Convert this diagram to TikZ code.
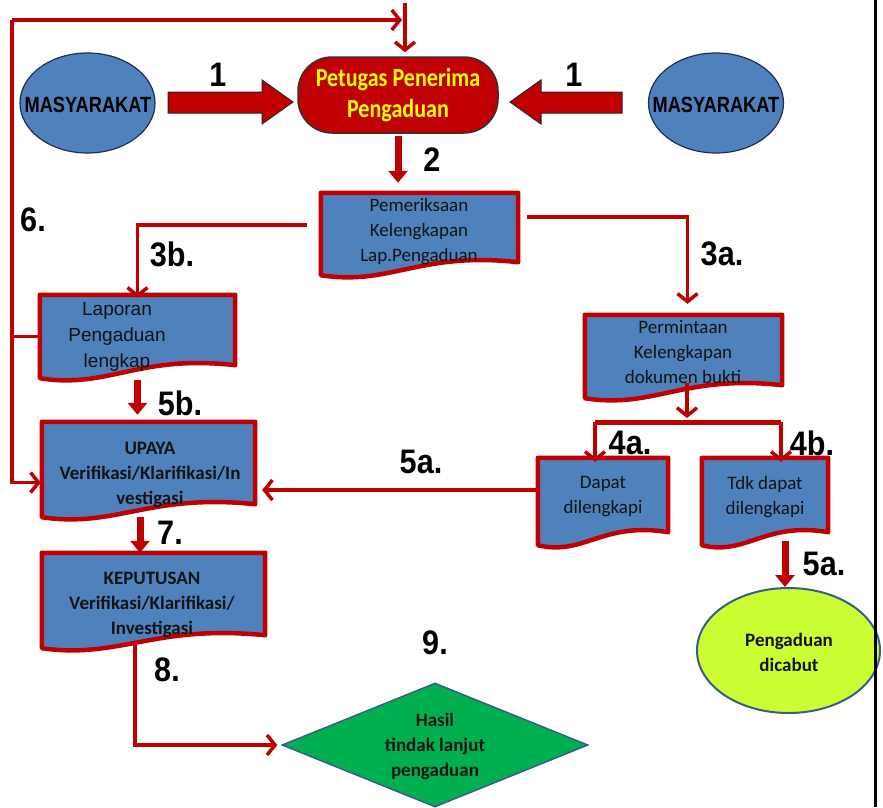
\documentclass[tikz,border=0pt]{standalone}
\usepackage{fontspec}
\setmainfont{Carlito}
\newfontfamily\arial{Liberation Sans}
\usetikzlibrary{arrows.meta,calc,shapes.geometric}
\definecolor{boxblue}{HTML}{4F81BD}
\definecolor{boxred}{HTML}{C00000}
\definecolor{lred}{HTML}{C00000}
\definecolor{ellline}{HTML}{1F2F4F}
\definecolor{dgreen}{HTML}{00B050}
\definecolor{lime}{HTML}{CCFF33}
\definecolor{shapeline}{HTML}{385D8A}
\definecolor{txtc}{HTML}{141414}
\definecolor{petyellow}{HTML}{FFFF00}
\newcommand\docshape[1]{\filldraw[docst] (#1.north west) -- (#1.north east) -- ($(#1.south east)+(0,-13)$) .. controls ($(#1.south west)!0.5!(#1.south east)+(0,-24)$) and ($(#1.south west)!0.35!(#1.south east)+(0,11)$) .. (#1.south west) -- cycle;}
\newcommand\sq[2][0.9]{\scalebox{#1}[1]{#2}}
\tikzset{
  docn/.style={rectangle, inner sep=0pt, draw=none},
  docst/.style={fill=boxblue, draw=boxred, line width=4.5pt, line join=round},
  txt/.style={align=center, text=txtc, inner sep=0pt, font=\fontsize{19}{25}\selectfont},
  txtb/.style={align=center, text=txtc, inner sep=0pt, font=\bfseries\fontsize{19}{25}\selectfont},
  txta/.style={align=center, text=txtc, inner sep=0pt, font=\arial\fontsize{19}{26}\selectfont},
  mtext/.style={inner sep=0pt, text=black, font=\arial\bfseries\fontsize{22}{22}\selectfont},
  lbl/.style={inner sep=0pt, text=black, font=\arial\bfseries\fontsize{34}{34}\selectfont},
  ellb/.style={ellipse, minimum width=135pt, minimum height=100pt, inner sep=0pt, fill=boxblue, draw=ellline, line width=1.2pt},
  con/.style={draw=lred, line width=3.5pt},
  conarr/.style={draw=lred, line width=3.5pt, -{Straight Barb[length=8pt,width=20pt]}},
  thickarr/.style={draw=lred, line width=7pt, -{Triangle[length=12pt,width=19pt]}},
  blockarr/.style={fill=lred, draw=black!85, line width=1pt},
}
\begin{document}
\begin{tikzpicture}[x=1pt,y=-1pt]
\useasboundingbox (0,0) rectangle (883,807);
\fill[white] (0,0) rectangle (883,807);

% MASYARAKAT ellipses
\node[ellb] (mas1) at (87.5,103) {};
\node[ellb] (mas2) at (716,103) {};
\node[mtext] (mas1t) at (88,105) {\sq[0.83]{MASYARAKAT}};
\node[mtext] (mas2t) at (716,105) {\sq[0.83]{MASYARAKAT}};

% Petugas
\node[rectangle, rounded corners=34pt, minimum width=200pt, minimum height=76pt,
      fill=boxred, draw=black!80, line width=1.5pt, text=petyellow, align=center,
      font=\bfseries\fontsize{26}{31}\selectfont] (pet) at (398,95)
      {\sq[0.85]{Petugas Penerima}\\\sq[0.85]{Pengaduan}};

% block arrows
\filldraw[blockarr] (168,92) -- (262,92) -- (262,80) -- (293,102) -- (262,124) -- (262,113) -- (168,113) -- cycle;
\filldraw[blockarr] (622,92) -- (541,92) -- (541,80) -- (510,102) -- (541,124) -- (541,113) -- (622,113) -- cycle;

% document boxes
\node[docn, minimum width=197pt, minimum height=82pt] (pem) at (419.5,234) {};
\node[docn, minimum width=195pt, minimum height=83pt] (lap) at (137.5,336.5) {};
\node[docn, minimum width=197pt, minimum height=83pt] (perm) at (683.5,356.5) {};
\node[docn, minimum width=130pt, minimum height=87pt] (dapat) at (603,501.5) {};
\node[docn, minimum width=126pt, minimum height=87pt] (tdk) at (765,501.5) {};
\node[docn, minimum width=213pt, minimum height=95pt] (upaya) at (148.5,469.5) {};
\node[docn, minimum width=223pt, minimum height=95pt] (kep) at (153.5,600.5) {};
\docshape{pem}
\docshape{lap}
\docshape{perm}
\docshape{dapat}
\docshape{tdk}
\docshape{upaya}
\docshape{kep}

% diamond and ellipse
\node[diamond, minimum width=306pt, minimum height=124pt, inner sep=0pt, fill=dgreen, draw=shapeline, line width=1.5pt] (dia) at (435,745) {};
\node[ellipse, minimum width=183pt, minimum height=125pt, inner sep=0pt, fill=lime, draw=shapeline, line width=2pt] (ell) at (788.5,650.5) {};

% texts
\node[txt] (pemt) at (419,232) {Pemeriksaan\\Kelengkapan\\Lap.Pengaduan};
\node[txta] (lapt) at (117,337) {Laporan\\Pengaduan\\lengkap};
\node[txt] (permt) at (683,352) {Permintaan\\Kelengkapan\\dokumen bukti};
\node[txt] (dapatt) at (603,497) {Dapat\\dilengkapi};
\node[txt] (tdkt) at (765,497) {Tdk dapat\\dilengkapi};
\node[txtb] (upayat) at (150,475) {UPAYA\\Verifikasi/Klarifikasi/In\\vestigasi};
\node[txtb] (kept) at (152,605) {KEPUTUSAN\\Verifikasi/Klarifikasi/\\Investigasi};
\node[txtb] (diat) at (435,746) {Hasil\\tindak lanjut\\pengaduan};
\node[txtb] (ellt) at (789,652) {Pengaduan\\dicabut};

% coordinates
\coordinate (top) at (405,3);
\coordinate (c6) at (12,20);
\coordinate (p3b) at (307,225);
\coordinate (p3a) at (527,217);
\coordinate (pb) at (687,383);
\coordinate (bar) at (687,420);
\coordinate (bl) at (595,422);
\coordinate (br) at (781,422);
\coordinate (a5) at (538,490);
\coordinate (t5) at (785,541);
\coordinate (u7) at (140,517);
\coordinate (k8) at (135,645);
\coordinate (u6) at ($(upaya.west)+(0,13)$);

% connectors
\draw[conarr, shorten >=4pt] (top) -- (top |- pet.north);
\draw[con] (lap.west) -| (c6);
\draw[conarr, shorten >=3pt] (c6) -- (c6 -| top);
\draw[conarr, shorten >=1pt] (c6 |- lap.west) |- (u6);
\draw[thickarr, shorten <=2pt, shorten >=10pt] (pet.south) -- (pet.south |- pem.north);
\draw[conarr, shorten >=-3pt] (p3b) -| (lap.north);
\draw[conarr, shorten >=11pt] (p3a) -| ($(perm.north)+(4,0)$);
\draw[conarr, shorten >=2pt] (pb) -- (bar);
\draw[draw=lred, line width=5pt] (bl) -- (br);
\draw[conarr, shorten >=-4pt] (bl) -- (bl |- dapat.north);
\draw[conarr, shorten >=-4pt] (br) -- (br |- tdk.north);
\draw[conarr, shorten >=7pt] (a5) -- (a5 -| upaya.east);
\draw[thickarr] (t5) -- (t5 |- ell.north);
\draw[thickarr, shorten <=2pt, shorten >=7pt] (lap.south) -- (lap.south |- upaya.north);
\draw[thickarr] (u7) -- (u7 |- kep.north);
\draw[conarr, shorten >=4pt] (k8) |- (dia.west);

% labels
\node[lbl] (l1a) at (218,75) {\sq{1}};
\node[lbl] (l1b) at (574,75) {\sq{1}};
\node[lbl] (l2) at (432,160) {\sq{2}};
\node[lbl] (l6) at (33,220) {\sq{6.}};
\node[lbl] (l3b) at (172,254) {\sq{3b.}};
\node[lbl] (l3a) at (722,254) {\sq{3a.}};
\node[lbl] (l5b) at (180,403) {\sq{5b.}};
\node[lbl] (l4a) at (630,443) {\sq{4a.}};
\node[lbl] (l4b) at (812,443) {\sq{4b.}};
\node[lbl] (l5a) at (421,462) {\sq{5a.}};
\node[lbl] (l5c) at (824,564) {\sq{5a.}};
\node[lbl] (l7) at (170,533) {\sq{7.}};
\node[lbl] (l8) at (167,670) {\sq{8.}};
\node[lbl] (l9) at (435,643) {\sq{9.}};

% frame line
\draw[line width=3pt] (875,0) -- (875,807);
\end{tikzpicture}
\end{document}
